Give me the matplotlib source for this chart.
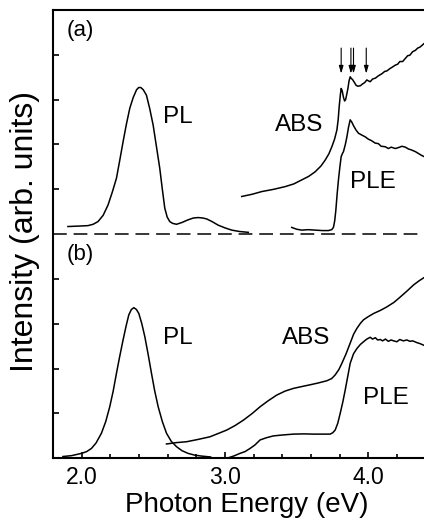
import matplotlib
matplotlib.use("Agg")
import matplotlib.pyplot as plt
from matplotlib.ticker import MultipleLocator, FixedLocator

plt.rcParams['font.family'] = ['Liberation Sans', 'DejaVu Sans']

# ---------------- data (panel a is offset by 5 units above panel b) ----------------
pl_a_E = [1.904, 1.98, 2.044, 2.08, 2.114, 2.15, 2.184, 2.215, 2.243, 2.266, 2.289, 2.312,
          2.336, 2.36, 2.383, 2.398, 2.413, 2.43, 2.452, 2.475, 2.499, 2.522, 2.545, 2.563,
          2.580, 2.597, 2.615, 2.635, 2.662, 2.70, 2.743, 2.78, 2.813, 2.845, 2.872, 2.91,
          2.953, 3.00, 3.047, 3.10, 3.163]
pl_a_I = [5.17, 5.18, 5.19, 5.22, 5.28, 5.42, 5.65, 5.95, 6.25, 6.65, 7.06, 7.45,
          7.81, 8.05, 8.22, 8.27, 8.27, 8.22, 8.10, 7.80, 7.43, 6.95, 6.47, 6.00,
          5.58, 5.38, 5.28, 5.24, 5.22, 5.26, 5.32, 5.36, 5.37, 5.36, 5.34, 5.28,
          5.20, 5.14, 5.09, 5.06, 5.04]

abs_a_E = [3.117, 3.19, 3.257, 3.34, 3.420, 3.48, 3.536, 3.585, 3.629, 3.670, 3.699, 3.725,
           3.746, 3.765, 3.781, 3.790, 3.797, 3.805, 3.811, 3.818, 3.827, 3.835, 3.842, 3.850,
           3.858, 3.866, 3.874, 3.882, 3.890, 3.904, 3.915, 3.927, 3.945, 3.960, 3.975, 3.990,
           4.000, 4.014, 4.03, 4.05, 4.07, 4.096, 4.115, 4.13, 4.15, 4.17, 4.189, 4.205,
           4.22, 4.24, 4.259, 4.275, 4.29, 4.31, 4.329, 4.345, 4.36, 4.375, 4.389]
abs_a_I = [5.84, 5.89, 5.95, 6.00, 6.06, 6.12, 6.21, 6.29, 6.39, 6.52, 6.65, 6.79,
           6.95, 7.12, 7.32, 7.55, 7.84, 8.10, 8.25, 8.20, 8.05, 7.97, 8.00, 8.12,
           8.25, 8.42, 8.51, 8.47, 8.45, 8.38, 8.32, 8.30, 8.31, 8.35, 8.38, 8.44,
           8.42, 8.40, 8.46, 8.48, 8.53, 8.58, 8.63, 8.64, 8.69, 8.73, 8.77, 8.79,
           8.85, 8.85, 8.92, 8.98, 8.99, 9.07, 9.10, 9.15, 9.17, 9.21, 9.25]

ple_a_E = [3.466, 3.50, 3.536, 3.58, 3.629, 3.68, 3.722, 3.745, 3.757, 3.766, 3.774, 3.783,
           3.792, 3.802, 3.811, 3.820, 3.827, 3.840, 3.851, 3.862, 3.874, 3.885, 3.897, 3.915,
           3.932, 3.955, 3.979, 4.00, 4.02, 4.049, 4.07, 4.09, 4.119, 4.14, 4.16, 4.189,
           4.21, 4.235, 4.259, 4.28, 4.30, 4.329, 4.35, 4.37, 4.389]
ple_a_I = [5.15, 5.11, 5.09, 5.10, 5.09, 5.08, 5.08, 5.10, 5.15, 5.30, 5.54, 5.90,
           6.21, 6.50, 6.73, 6.80, 6.84, 7.00, 7.17, 7.38, 7.55, 7.50, 7.42, 7.32,
           7.25, 7.21, 7.17, 7.12, 7.09, 7.03, 7.02, 6.96, 6.95, 6.91, 6.94, 6.91,
           6.93, 6.96, 6.94, 6.90, 6.88, 6.84, 6.80, 6.76, 6.73]

pl_b_E = [1.869, 1.93, 1.998, 2.035, 2.068, 2.10, 2.138, 2.168, 2.196, 2.22, 2.243, 2.266,
          2.289, 2.31, 2.329, 2.347, 2.364, 2.382, 2.399, 2.42, 2.441, 2.465, 2.487, 2.51,
          2.534, 2.563, 2.592, 2.625, 2.662, 2.70, 2.743, 2.79, 2.837, 2.90]
pl_b_I = [0.04, 0.06, 0.11, 0.15, 0.22, 0.34, 0.56, 0.82, 1.15, 1.50, 1.90, 2.28,
          2.64, 2.95, 3.20, 3.32, 3.36, 3.32, 3.23, 3.00, 2.71, 2.30, 1.90, 1.50,
          1.15, 0.82, 0.56, 0.38, 0.26, 0.17, 0.11, 0.07, 0.05, 0.03]

abs_b_E = [2.592, 2.66, 2.732, 2.81, 2.895, 2.95, 3.012, 3.07, 3.128, 3.19, 3.245, 3.30,
           3.361, 3.42, 3.478, 3.535, 3.594, 3.65, 3.711, 3.745, 3.769, 3.795, 3.816, 3.845,
           3.874, 3.898, 3.921, 3.945, 3.967, 4.00, 4.037, 4.085, 4.131, 4.18, 4.224, 4.27,
           4.317, 4.355, 4.389]
abs_b_I = [0.32, 0.35, 0.37, 0.42, 0.48, 0.55, 0.63, 0.73, 0.85, 1.00, 1.15, 1.28,
           1.41, 1.50, 1.56, 1.60, 1.64, 1.68, 1.73, 1.78, 1.86, 1.98, 2.12, 2.33,
           2.57, 2.77, 2.90, 3.01, 3.09, 3.16, 3.23, 3.30, 3.38, 3.48, 3.60, 3.73,
           3.87, 3.96, 4.03]

ple_b_E = [3.012, 3.06, 3.105, 3.14, 3.175, 3.21, 3.245, 3.29, 3.338, 3.40, 3.478, 3.55,
           3.618, 3.68, 3.734, 3.752, 3.769, 3.787, 3.804, 3.822, 3.839, 3.857, 3.874, 3.897,
           3.921, 3.945, 3.967, 3.99, 4.014, 4.03, 4.05, 4.065, 4.084, 4.10, 4.12, 4.14,
           4.16, 4.177, 4.20, 4.22, 4.245, 4.27, 4.29, 4.31, 4.34, 4.36, 4.389]
ple_b_I = [0.00, 0.05, 0.11, 0.15, 0.22, 0.30, 0.41, 0.46, 0.50, 0.52, 0.54, 0.545,
           0.54, 0.54, 0.54, 0.57, 0.63, 0.78, 1.00, 1.25, 1.52, 1.83, 2.12, 2.33,
           2.45, 2.54, 2.60, 2.66, 2.70, 2.66, 2.69, 2.64, 2.65, 2.62, 2.66, 2.61,
           2.64, 2.62, 2.60, 2.65, 2.62, 2.64, 2.61, 2.62, 2.58, 2.56, 2.52]

arrow_E = [3.811, 3.879, 3.897, 3.986]
arrow_top, arrow_tip = 9.15, 8.58
panel_offset = 5.0

xtick_vals = [2.0, 3.0, 4.0]
xtick_labels = ["2.0", "3.0", "4.0"]
ytick_vals = [1, 2, 3, 4, 6, 7, 8, 9]

# ---------------- figure ----------------
fig = plt.figure(figsize=(4.24, 5.25), dpi=100)
ax = fig.add_axes([0.125, 0.127, 0.875, 0.854])
ax.set_xlim(1.80, 4.389)
ax.set_ylim(0, 10)

lw = 1.1
for E, I in [(pl_a_E, pl_a_I), (abs_a_E, abs_a_I), (ple_a_E, ple_a_I),
             (pl_b_E, pl_b_I), (abs_b_E, abs_b_I), (ple_b_E, ple_b_I)]:
    ax.plot(E, I, color='black', lw=lw, solid_joinstyle='round')

ax.axhline(panel_offset, color='black', lw=1.1, ls=(0, (9, 4.5)))

for e in arrow_E:
    ax.annotate('', xy=(e, arrow_tip), xytext=(e, arrow_top),
                arrowprops=dict(arrowstyle='-|>,head_length=0.45,head_width=0.13',
                                lw=0.8, color='black', shrinkA=0, shrinkB=0))

tfs = 17.5
ax.text(1.895, 9.55, "(a)", fontsize=16, ha='left', va='center')
ax.text(1.895, 4.54, "(b)", fontsize=16, ha='left', va='center')
ax.text(2.566, 7.61, "PL", fontsize=tfs, ha='left', va='center')
ax.text(3.35, 7.43, "ABS", fontsize=tfs, ha='left', va='center')
ax.text(3.874, 6.17, "PLE", fontsize=tfs, ha='left', va='center')
ax.text(2.566, 2.68, "PL", fontsize=tfs, ha='left', va='center')
ax.text(3.40, 2.68, "ABS", fontsize=tfs, ha='left', va='center')
ax.text(3.965, 1.35, "PLE", fontsize=tfs, ha='left', va='center')

# spines & ticks
ax.spines['right'].set_visible(False)
for s in ['left', 'top', 'bottom']:
    ax.spines[s].set_linewidth(1.5)

ax.xaxis.set_major_locator(FixedLocator(xtick_vals))
ax.set_xticklabels(xtick_labels, fontsize=16.5)
ax.xaxis.set_minor_locator(MultipleLocator(0.2))
ax.yaxis.set_major_locator(FixedLocator(ytick_vals))
ax.set_yticklabels([])
ax.tick_params(axis='x', which='major', direction='in', length=4, width=1.2, pad=5.5, top=False)
ax.tick_params(axis='x', which='minor', direction='in', length=3, width=1.2, top=False)
ax.tick_params(axis='y', which='major', direction='in', length=4, width=1.2, right=False)

ax.set_xlabel("Photon Energy (eV)", fontsize=20)
ax.xaxis.set_label_coords(0.5216, -0.075)
ax.set_ylabel("Intensity (arb. units)", fontsize=23)
ax.yaxis.set_label_coords(-0.035, 0.506)

fig.savefig("out.png", dpi=100)
